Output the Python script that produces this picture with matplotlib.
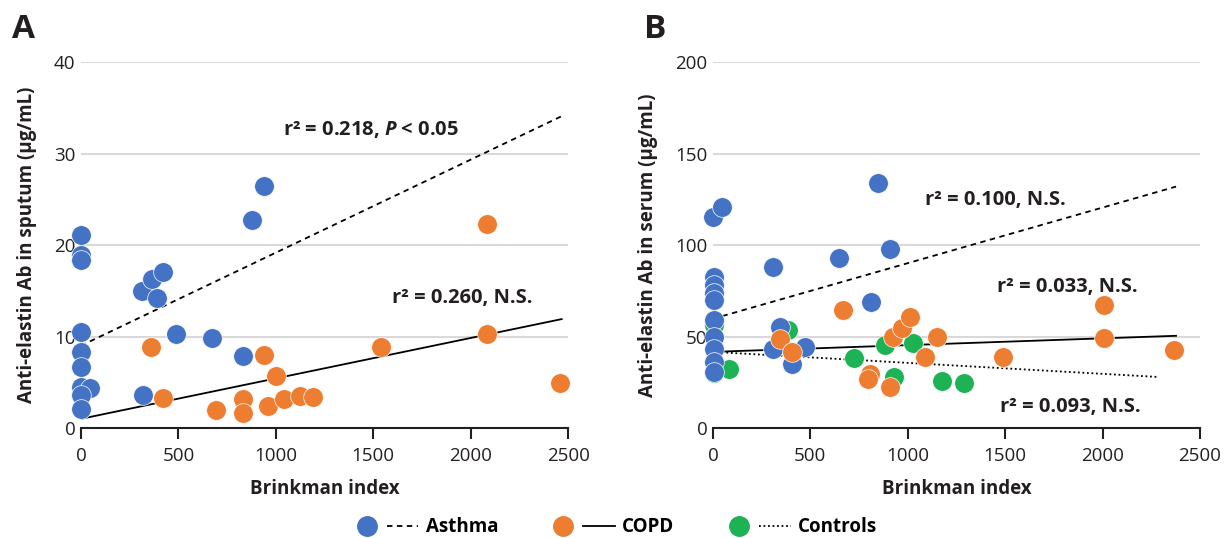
import numpy as np
import matplotlib.pyplot as plt
from matplotlib.lines import Line2D
from matplotlib.legend_handler import HandlerTuple

# ---- data ----
# panel A: sputum
a_asthma_x = [0, 0, 0, 0, 0, 0, 0, 45, 0, 0, 313, 364, 420, 390, 487, 672, 831, 318, 877, 938]
a_asthma_y = [21.1, 18.9, 18.4, 10.5, 8.3, 6.7, 4.5, 4.4, 3.6, 2.1, 15.0, 16.3, 17.0, 14.2, 10.3, 9.8, 7.9, 3.6, 22.7, 26.5]
a_copd_x = [359, 420, 692, 831, 831, 938, 959, 1000, 1041, 1123, 1190, 1538, 2082, 2082, 2456]
a_copd_y = [8.9, 3.3, 2.0, 3.2, 1.6, 8.0, 2.4, 5.7, 3.2, 3.5, 3.4, 8.8, 10.3, 22.3, 4.9]

# panel B: serum
b_asthma_x = [0, 46, 846, 908, 646, 308, 5, 5, 5, 5, 810, 5, 5, 5, 5, 5, 344, 308, 472, 405]
b_asthma_y = [115.6, 121, 134, 98, 93, 88, 82.7, 78.3, 73.9, 70, 69, 59, 50, 43, 36, 30.7, 55, 43, 44, 35]
b_copd_x = [667, 344, 405, 805, 795, 908, 923, 969, 1010, 1149, 1087, 1487, 2005, 2005, 2369]
b_copd_y = [64.6, 48.7, 41.6, 29.5, 27, 22.5, 50, 54.7, 60.8, 50, 39, 39, 67, 49.3, 42.7]
b_ctrl_x = [5, 5, 82, 385, 723, 882, 1026, 928, 1174, 1287]
b_ctrl_y = [56.5, 30, 32.3, 53.6, 38.3, 45.5, 46.5, 28, 25.7, 24.6]

# regression lines: (intercept, slope, x end)
a_fit_asthma = (9.0, 0.01017, 2467)
a_fit_copd = (1.0, 0.00442, 2467)
b_fit_asthma = (59.7, 0.0304, 2377)
b_fit_copd = (41.6, 0.0037, 2377)
b_fit_ctrl = (41.6, -0.0060, 2282)

a_labels = ["r\u00b2 = 0.218, $P$ < 0.05", "r\u00b2 = 0.260, N.S."]
a_label_pos = [(1036, 32.6), (1595, 14.2)]
b_labels = ["r\u00b2 = 0.100, N.S.", "r\u00b2 = 0.033, N.S.", "r\u00b2 = 0.093, N.S."]
b_label_pos = [(1088, 124.9), (1458, 77), (1473, 11.5)]

blue = '#4472C4'
orange = '#ED7D31'
green = '#1DB254'
txt = '#231F20'

plt.rcParams['font.family'] = ['Open Sans', 'DejaVu Sans']
plt.rcParams['mathtext.fontset'] = 'custom'
plt.rcParams['mathtext.it'] = 'Open Sans:bold:italic'
plt.rcParams['mathtext.rm'] = 'Open Sans:bold'

fig = plt.figure(figsize=(12.27, 5.38), dpi=100)
axA = fig.add_axes([0.066, 0.2045, 0.397, 0.680])
axB = fig.add_axes([0.581, 0.2045, 0.397, 0.680])

ms = 200


def fit_line(ax, fit, style):
    b0, b1, xe = fit
    xs = np.array([0, xe])
    ax.plot(xs, b0 + b1 * xs, color='black', lw=1.3, ls=style, zorder=2)


def style_axes(ax, ymax, ystep, ylabel):
    ax.set_xlim(0, 2500)
    ax.set_ylim(0, ymax)
    ax.set_xticks(range(0, 2501, 500))
    ax.set_yticks(np.arange(0, ymax + 1, ystep))
    for s in ['top', 'right', 'left']:
        ax.spines[s].set_visible(False)
    ax.spines['bottom'].set_color('#231F20')
    ax.spines['bottom'].set_linewidth(1.5)
    ax.tick_params(axis='x', direction='out', length=8, width=1.5, colors='#231F20',
                   labelsize=13.5, pad=6)
    ax.tick_params(axis='y', length=0, labelsize=13.5, colors='#231F20', pad=4)
    ax.yaxis.grid(True, color='#d9d9d9', lw=1.5)
    ax.set_axisbelow(True)
    ax.set_xlabel('Brinkman index', fontsize=13.5, fontweight='bold', color=txt, labelpad=10)
    ax.set_ylabel(ylabel, fontsize=13.5, fontweight='bold', color=txt, labelpad=12)


# panel A
style_axes(axA, 40, 10, 'Anti-elastin Ab in sputum (\u03bcg/mL)')
fit_line(axA, a_fit_asthma, (0, (3, 2.5)))
fit_line(axA, a_fit_copd, '-')
axA.scatter(a_asthma_x, a_asthma_y, s=ms, color=blue, edgecolor='white', lw=0.5, zorder=3, clip_on=False)
axA.scatter(a_copd_x, a_copd_y, s=ms, color=orange, edgecolor='white', lw=0.5, zorder=4, clip_on=False)
for t, (x, y) in zip(a_labels, a_label_pos):
    axA.text(x, y, t, fontsize=14.5, fontweight='bold', color=txt, va='center', ha='left')

# panel B
style_axes(axB, 200, 50, 'Anti-elastin Ab in serum (\u03bcg/mL)')
fit_line(axB, b_fit_asthma, (0, (3, 2.5)))
fit_line(axB, b_fit_copd, '-')
fit_line(axB, b_fit_ctrl, (0, (1, 1.5)))
axB.scatter(b_ctrl_x, b_ctrl_y, s=ms, color=green, edgecolor='white', lw=0.5, zorder=3, clip_on=False)
axB.scatter(b_asthma_x, b_asthma_y, s=ms, color=blue, edgecolor='white', lw=0.5, zorder=4, clip_on=False)
axB.scatter(b_copd_x, b_copd_y, s=ms, color=orange, edgecolor='white', lw=0.5, zorder=5, clip_on=False)
for t, (x, y) in zip(b_labels, b_label_pos):
    axB.text(x, y, t, fontsize=14.5, fontweight='bold', color=txt, va='center', ha='left')

# panel letters
fig.text(0.010, 0.945, 'A', fontsize=24, fontweight='bold', color=txt, va='center')
fig.text(0.525, 0.945, 'B', fontsize=24, fontweight='bold', color=txt, va='center')

# legend
handles = [
    (Line2D([], [], ls='', marker='o', ms=14, color=blue), Line2D([], [], ls=(0, (3, 2.5)), color='black', lw=1.3)),
    (Line2D([], [], ls='', marker='o', ms=14, color=orange), Line2D([], [], ls='-', color='black', lw=1.3)),
    (Line2D([], [], ls='', marker='o', ms=14, color=green), Line2D([], [], ls=(0, (1, 1.5)), color='black', lw=1.3)),
]
fig.legend(handles, ['Asthma', 'COPD', 'Controls'], loc='center', bbox_to_anchor=(0.5005, 0.02),
           ncol=3, frameon=False, handler_map={tuple: HandlerTuple(ndivide=None, pad=0.25)},
           handlelength=3.6, columnspacing=2.6, handletextpad=0.4,
           prop={'weight': 'bold', 'size': 13.5})

fig.savefig('out.png', dpi=100)
